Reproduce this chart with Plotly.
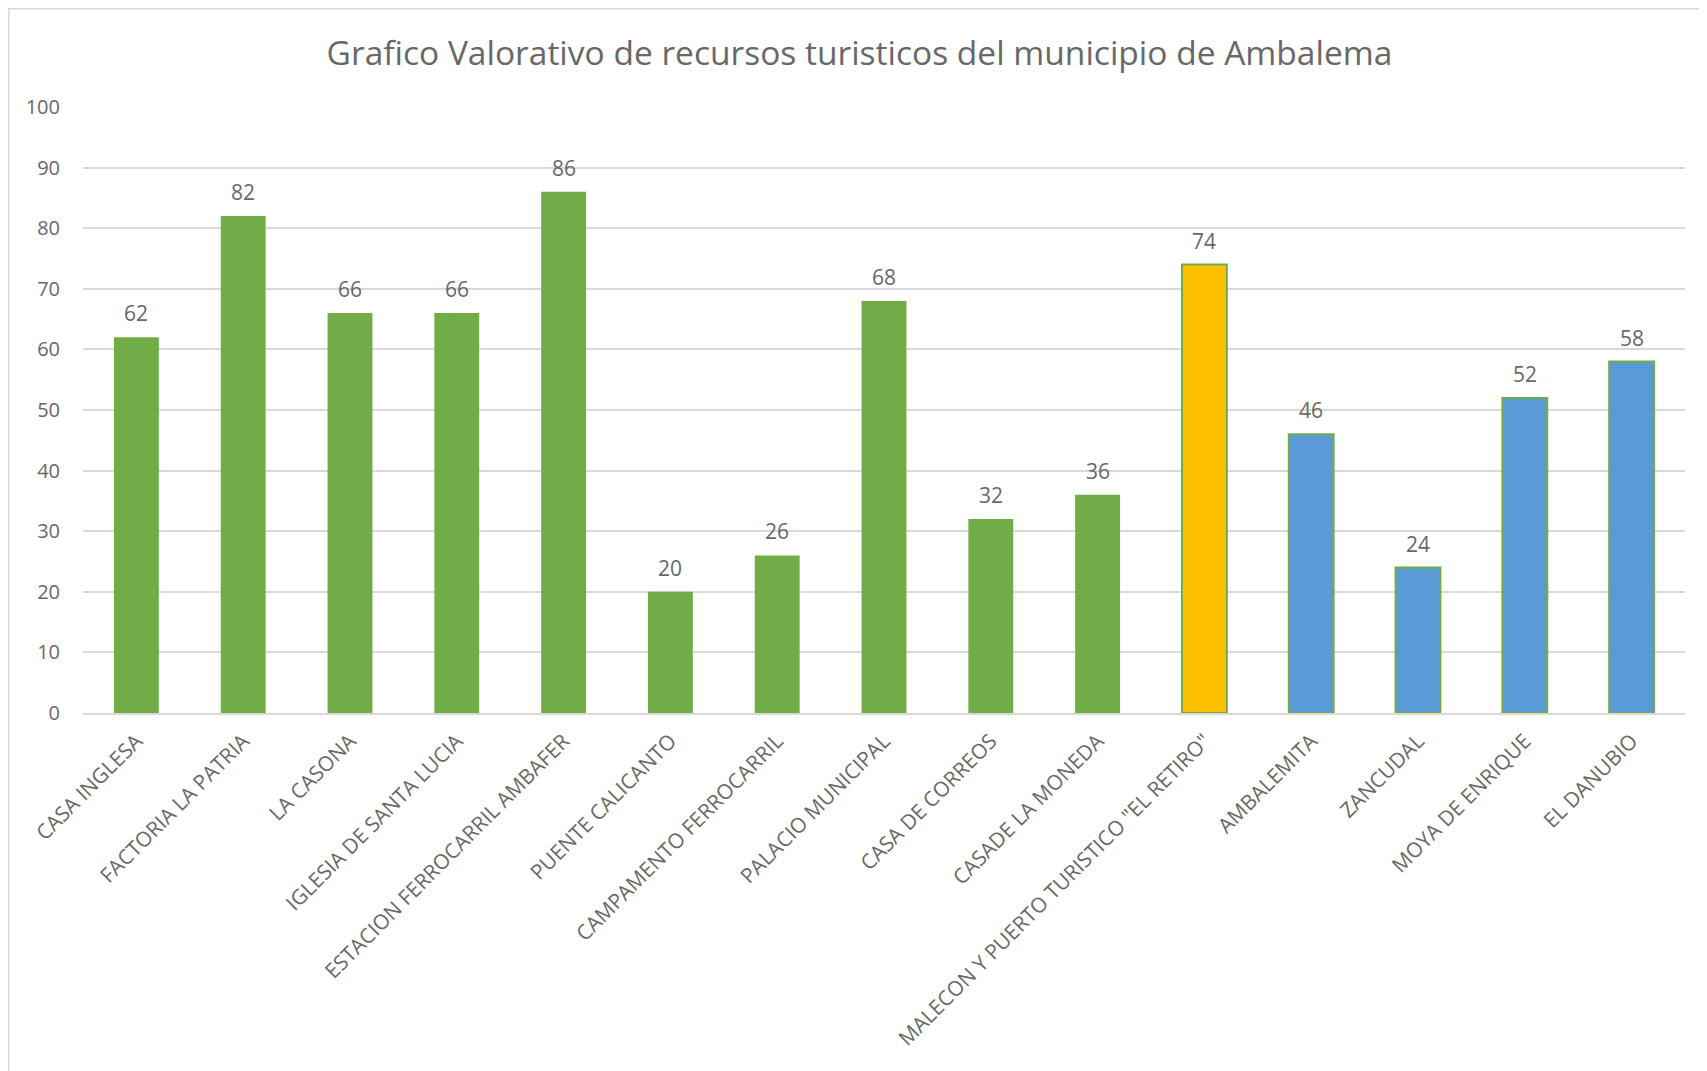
import plotly.graph_objects as go

categories = ["CASA INGLESA", "FACTORIA LA PATRIA", "LA CASONA", "IGLESIA DE SANTA LUCIA",
              "ESTACION FERROCARRIL AMBAFER", "PUENTE CALICANTO", "CAMPAMENTO FERROCARRIL",
              "PALACIO MUNICIPAL", "CASA DE CORREOS", "CASADE LA MONEDA",
              "MALECON Y PUERTO TURISTICO \"EL RETIRO\"", "AMBALEMITA", "ZANCUDAL",
              "MOYA DE ENRIQUE", "EL DANUBIO"]
values = [62, 82, 66, 66, 86, 20, 26, 68, 32, 36, 74, 46, 24, 52, 58]
groups = ["g"] * 10 + ["y"] + ["b"] * 5
y_ticks = [0, 10, 20, 30, 40, 50, 60, 70, 80, 90, 100]

color_map = {"g": "#70AD47", "y": "#FFC000", "b": "#5B9BD5"}
colors = [color_map[g] for g in groups]
line_w = [0 if g == "g" else 2 for g in groups]

W, H = 1707, 1071
ml, mr, mt, mb = 75, 30, 99, 366
pw = W - ml - mr
ph = H - mt - mb
FONT = "Open Sans"
GRAY = "#686868"

fig = go.Figure()
fig.add_trace(go.Bar(
    x=categories, y=values,
    marker=dict(color=colors, line=dict(color="#70AD47", width=line_w)),
    width=0.42,
    hoverinfo="x+y",
))

annotations = []
for c, v in zip(categories, values):
    annotations.append(dict(x=c, y=v, xref="x", yref="y", text=str(v), showarrow=False,
                            yshift=24, font=dict(family=FONT, size=21, color=GRAY)))

fig.update_layout(
    width=W, height=H,
    margin=dict(l=ml, r=mr, t=mt, b=mb, autoexpand=False),
    paper_bgcolor="white", plot_bgcolor="white",
    showlegend=False,
    title=dict(text="Grafico Valorativo de recursos turisticos del municipio de Ambalema",
               x=851.5 / W, xanchor="center", y=1 - 45 / H, yanchor="middle",
               font=dict(family=FONT, size=33.5, color=GRAY)),
    annotations=annotations,
    shapes=[dict(type="rect", xref="paper", yref="paper",
                 x0=(0.75 - ml) / pw, x1=(W + 20 - ml) / pw,
                 y0=-(mb + 20) / ph, y1=(H - mb - 0.75) / ph,
                 line=dict(color="#D9D9D9", width=1.5), layer="below")],
)
fig.update_xaxes(
    tickangle=-45, tickfont=dict(family=FONT, size=20.8, color=GRAY),
    showgrid=False, showline=True, linecolor="#D9D9D9", linewidth=1.5,
    ticks="", ticklabelstandoff=6, automargin=False, fixedrange=True,
)
fig.update_yaxes(
    range=[0, 100], tickvals=y_ticks, tickfont=dict(family=FONT, size=20, color=GRAY),
    showgrid=True, gridcolor="#D9D9D9", gridwidth=1.5, zeroline=False,
    showline=False, ticks="", ticklabelstandoff=22, automargin=False, fixedrange=True,
)

fig.write_html("out.html")
